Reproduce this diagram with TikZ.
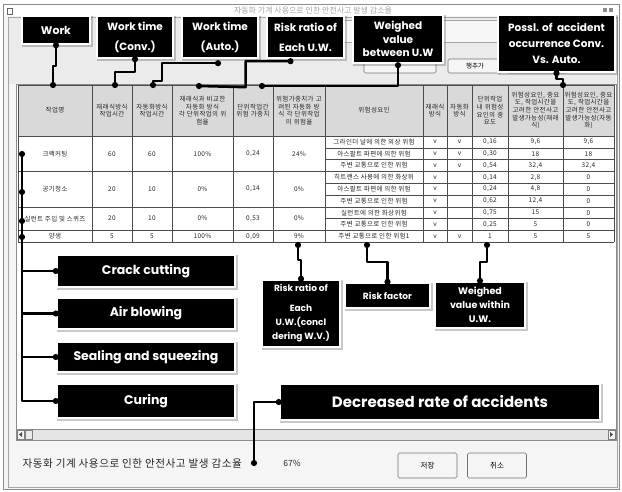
\documentclass[tikz,border=0pt]{standalone}
\usepackage{fontspec}
\newfontfamily\calloutfont{Poppins}
\newfontfamily\krfont{Noto Sans CJK KR}
\newfontfamily\krwide{Noto Sans CJK KR}[LetterSpace=5]
\usetikzlibrary{shadows,calc}

% one row of the left-hand table block (columns 1-6)
\newcommand\tabmain[8]{%
  \node[cell] (m#1a) at (55,#2) {#3};
  \node[cell] (m#1b) at (112,#2) {#4};
  \node[cell] (m#1c) at (152,#2) {#5};
  \node[cell] (m#1d) at (202.5,#2) {#6};
  \node[cell] (m#1e) at (253,#2) {#7};
  \node[cell] (m#1f) at (299,#2) {#8};
}
% one risk-factor line (columns 7-12)
\newcommand\tabsub[8]{%
  \node[cell] (s#1a) at (374,#2) {#3};
  \node[cell] (s#1b) at (435,#2) {#4};
  \node[cell] (s#1c) at (459.5,#2) {#5};
  \node[cell] (s#1d) at (490,#2) {#6};
  \node[cell] (s#1e) at (535.5,#2) {#7};
  \node[cell] (s#1f) at (588.5,#2) {#8};
}

\begin{document}
\begin{tikzpicture}[x=1pt,y=-1pt,
  callout/.style={fill=black, draw=white, line width=2.4pt, text=white, inner sep=0pt, align=center,
    drop shadow={shadow xshift=1.4pt, shadow yshift=-1.4pt, fill=black!70, draw=black!70, opacity=0.3}},
  cf/.style args={#1/#2}{font=\calloutfont\bfseries\fontsize{#1}{#2}\selectfont},
  wire/.style={line width=2.5pt, line join=round, black},
  cell/.style={inner sep=0pt, font=\krwide\fontsize{6.5}{7.7}\selectfont, text=black!85, align=center},
  hdr/.style={cell, text width=#1},
  btn/.style={draw=black!55, fill=black!4, rounded corners=1.5pt, line width=0.6pt, inner sep=0pt},
  grid/.style={black!70, line width=0.5pt},
]
\useasboundingbox (0,0) rectangle (622,491);

% ---- window frame ----
\fill[black!4] (3,4) rectangle (619,489);
\fill[white] (4,5) rectangle (618,16);
\draw[black!45, line width=0.6pt] (3,4) rectangle (619,489);
\draw[black!35, line width=0.5pt] (8,17) rectangle (617,487);
\draw[black!60, fill=white, line width=0.5pt] (7,8) rectangle (12,14);
\fill[black!45] (603,8) rectangle (607,12);
\fill[black!45] (609,8) rectangle (613,12);
\node[font=\krfont\fontsize{8}{9}\selectfont, text=black!35] (title) at (313,10.5)
  {자동화 기계 사용으로 인한 안전사고 발생 감소율};

% ---- tool panel ----
\fill[black!8] (9,18) rectangle (616,84);
\draw[black!35, fill=black!3] (340,20) rectangle (497,42);
\node[btn, minimum width=72pt, minimum height=14pt] (bLeft) at (400,66) {};
\node[btn, minimum width=54pt, minimum height=14pt, font=\krfont\fontsize{6.5}{8}\selectfont] (bAdd) at (475,66) {행추가};
\node[btn, minimum width=60pt, minimum height=14pt] (bRight) at (537,66) {};

% ---- grid widget ----
\fill[white] (16,84) rectangle (616,429);
\fill[black!15] (18,85) rectangle (614,136);
\foreach \x in {18,92,132,172,233,273,325,423,447,472,508,563,614}
  \draw[grid] (\x,85) -- (\x,242.2);
\foreach \y in {85,136,171.4,206.8,230.4,242.2}
  \draw[grid] (18,\y) -- (614,\y);
\foreach \y in {147.8,159.6,183.2,195,218.6}
  \draw[grid] (325,\y) -- (614,\y);

% header cells
\node[hdr=72pt] (h1) at (55,110.5) {작업명};
\node[hdr=40pt] (h2) at (112,110.5) {재래식방식\\작업시간};
\node[hdr=40pt] (h3) at (152,110.5) {자동화방식\\작업시간};
\node[hdr=61pt] (h4) at (202.5,110.5) {재래식과 비교한\\자동화 방식\\각 단위작업의 위\\험율};
\node[hdr=40pt] (h5) at (253,110.5) {단위작업간\\위험 가중치};
\node[hdr=52pt] (h6) at (299,110.5) {위험가중치가 고\\려된 자동화 방\\식 각 단위작업\\의 위험율};
\node[hdr=96pt] (h7) at (374,110.5) {위험성요인};
\node[hdr=24pt] (h8) at (435,110.5) {재래식\\방식};
\node[hdr=25pt] (h9) at (459.5,110.5) {자동화\\방식};
\node[hdr=36pt] (h10) at (490,110.5) {단위작업\\내 위험성\\요인의 중\\요도};
\node[hdr=55pt] (h11) at (535.5,110.5) {위험성요인, 중요\\도, 작업시간을\\고려한 안전사고\\발생가능성(재래\\식)};
\node[hdr=51pt] (h12) at (588.5,110.5) {위험성요인, 중요\\도, 작업시간을\\고려한 안전사고\\발생가능성(자동\\화)};

% body
\tabmain{1}{153.7}{크랙커팅}{60}{60}{100\%}{0,24}{24\%}
\tabmain{2}{189.1}{공기청소}{20}{10}{0\%}{0,14}{0\%}
\tabmain{3}{218.6}{실런트 주입 및 스퀴즈}{20}{10}{0\%}{0,53}{0\%}
\tabmain{4}{236.3}{양생}{5}{5}{100\%}{0,09}{9\%}

\tabsub{1}{141.9}{그라인더 날에 의한 외상 위험}{v}{v}{0,16}{9,6}{9,6}
\tabsub{2}{153.7}{아스팔트 파편에 의한 위험}{v}{v}{0,30}{18}{18}
\tabsub{3}{165.5}{주변 교통으로 인한 위험}{v}{v}{0,54}{32,4}{32,4}
\tabsub{4}{177.3}{히트랜스 사용에 의한 화상위}{v}{}{0,14}{2,8}{0}
\tabsub{5}{189.1}{아스팔트 파편에 의한 위험}{v}{}{0,24}{4,8}{0}
\tabsub{6}{200.9}{주변 교통으로 인한 위험}{v}{}{0,62}{12,4}{0}
\tabsub{7}{212.7}{실런트에 의한 화상위험}{v}{}{0,75}{15}{0}
\tabsub{8}{224.5}{주변 교통으로 인한 위험}{v}{}{0,25}{5}{0}
\tabsub{9}{236.3}{주변 교통으로 인한 위험1}{v}{v}{1}{5}{5}

% scroll bar
\fill[black!10] (16,429) rectangle (616,440);
\draw[black!45, line width=0.5pt] (16,84) rectangle (616,440);
\draw[black!45, line width=0.5pt] (16,429) -- (616,429);
\draw[black!50, fill=black!4, line width=0.4pt] (17,430) rectangle (24,439);
\fill[black!70] (22,432) -- (19,434.5) -- (22,437) -- cycle;
\draw[black!50, fill=blue!12!black!8, line width=0.4pt] (25,430) rectangle (32,439);
\draw[black!50, fill=black!4, line width=0.4pt] (608,430) rectangle (615,439);
\fill[black!70] (610,432) -- (613,434.5) -- (610,437) -- cycle;

% ---- status line ----
\node[anchor=west, font=\krwide\fontsize{10.6}{12}\selectfont, text=black!85] (rateLbl) at (19,463.5)
  {자동화 기계 사용으로 인한 안전사고 발생 감소율};
\node[font=\krfont\fontsize{8.5}{10}\selectfont, text=black!85] (rateVal) at (292,463.5) {67\%};
\node[btn, minimum width=59pt, minimum height=25pt, font=\krfont\fontsize{7.5}{9}\selectfont] (bSave) at (427.5,465.5) {저장};
\node[btn, minimum width=59pt, minimum height=25pt, font=\krfont\fontsize{7.5}{9}\selectfont] (bCancel) at (497,465.5) {취소};

% ---- callouts ----
\node[callout, cf=11/13, minimum width=68pt, minimum height=28pt] (cWork) at (56,30) {Work};
\node[callout, cf=10.5/20, minimum width=76pt, minimum height=42pt] (cConv) at (135,37) {Work time\\(Conv.)};
\node[callout, cf=10.5/20, minimum width=76pt, minimum height=42pt] (cAuto) at (220,37) {Work time\\(Auto.)};
\node[callout, cf=10.5/20, minimum width=77pt, minimum height=42pt] (cRisk) at (305.5,37) {Risk ratio of\\Each U.W.};
\node[callout, cf=10.5/13.5, minimum width=90pt, minimum height=48pt] (cWeigh) at (398,39) {Weighed\\value\\between U.W};
\node[callout, cf=10.5/16, minimum width=117pt, minimum height=57pt] (cPoss) at (556.5,43.5) {Possl. of\ \ accident\\occurrence Conv.\\Vs. Auto.};

\node[callout, cf=12.5/14, minimum width=178pt, minimum height=32pt] (cCrack) at (146,271) {Crack cutting};
\node[callout, cf=12.5/14, minimum width=178pt, minimum height=31pt] (cAir) at (146,313.5) {Air blowing};
\node[callout, cf=12.5/14, minimum width=178pt, minimum height=30pt] (cSeal) at (146,357) {Sealing and squeezing};
\node[callout, cf=12.5/14, minimum width=178pt, minimum height=34pt] (cCuring) at (146,401) {Curing};

\node[callout, cf=9/14, minimum width=78pt, minimum height=67pt] (cRiskW) at (301,313.5) {Risk ratio of\\[6pt]Each\\U.W.(concl\\dering W.V.)};
\node[callout, cf=9/11, minimum width=85pt, minimum height=25pt] (cFactor) at (387.5,295.5) {Risk factor};
\node[callout, cf=9.5/14, minimum width=90pt, minimum height=46pt] (cWithin) at (480,305) {Weighed\\value within\\U.W.};
\node[callout, cf=15/17, minimum width=320pt, minimum height=36pt] (cDecr) at (440,402) {Decreased rate of accidents};

% ---- anchor points in the grid ----
\coordinate (pWork) at (53,85);
\coordinate (pConv) at (115,85);
\coordinate (pAuto) at (153,85);
\coordinate (pRisk) at (199,86);
\coordinate (pWeigh) at (262,86);
\coordinate (pPoss) at (563,85);
\coordinate (pR1) at (22,154);
\coordinate (pR2) at (22,192);
\coordinate (pR3) at (22,221);
\coordinate (pR4) at (22,237);
\coordinate (pRiskW) at (298,245);
\coordinate (pFactor) at (367,245);
\coordinate (pWithin) at (487,245);
\coordinate (pDecr) at (254,463);
\coordinate (qAuto) at ($(cAuto.south)+(-2,4)$);
\coordinate (qRisk) at ($(cRisk.south)+(-15,2)$);
\coordinate (qWeigh) at ($(cWeigh.south)+(0,1)$);

% ---- connectors ----
\draw[wire] (cWork.south) -- ++(0,21) -| (pWork);
\draw[wire] (cConv.south) -- ++(0,13) -| (pConv);
\draw[wire] (qAuto) -| ++(-56,18) -| (pAuto);
\draw[wire] (qRisk) -| ++(-45,26) -- (pRisk);
\draw[wire] (qWeigh) |- (pWeigh);
\draw[wire] (cPoss.south) -- ++(0,6) -| (pPoss);

\draw[wire] (pR1) -- (pR1 |- cCuring.west) -- (cCuring.west);
\draw[wire] (pR1 |- cCrack.west) -- (cCrack.west);
\draw[wire] (pR1 |- cAir.west) -- (cAir.west);
\draw[wire] (pR1 |- cSeal.west) -- (cSeal.west);

\draw[wire] (pRiskW) -- ++(0,15) -| (cRiskW.north);
\draw[wire] (pFactor) -- ++(0,17) -| (cFactor.north);
\draw[wire] (pWithin) -- ++(0,17) -| (cWithin.north);
\draw[wire] (cDecr.west) -| (pDecr);

% ---- end dots ----
\foreach \p in {pWork,pConv,pAuto,pRisk,pWeigh,pPoss,pR1,pR2,pR3,pR4,pRiskW,pFactor,pWithin,pDecr,
                qAuto,qRisk,qWeigh,cWork.south,cConv.south,cPoss.south,
                cCrack.west,cAir.west,cSeal.west,cCuring.west,
                cRiskW.north,cFactor.north,cWithin.north,cDecr.west}
  \fill (\p) circle (3.1pt);
\end{tikzpicture}
\end{document}
